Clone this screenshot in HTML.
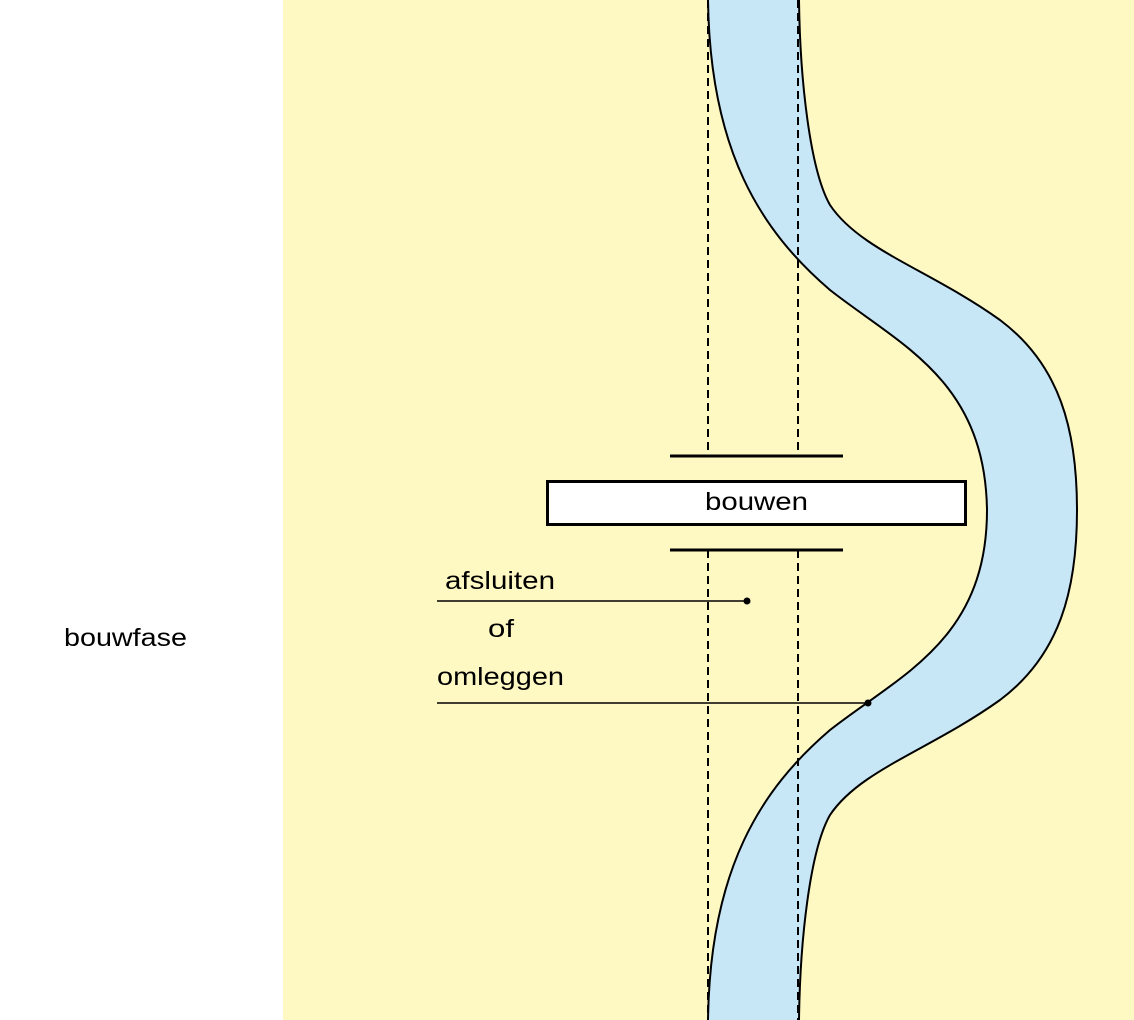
<!DOCTYPE html>
<html><head><meta charset="utf-8"><style>
html,body{margin:0;padding:0;background:#fff;}
svg{display:block;}
text{font-family:"Liberation Sans",sans-serif;fill:#000;}
</style></head><body>
<svg width="1134" height="1020" viewBox="0 0 1134 1020" xmlns="http://www.w3.org/2000/svg">
<rect x="283" y="0" width="851" height="1020" fill="#fef9c3"/>
<path d="M708,0 C710,150 760,230 830,290 C900,345 985,380 987,510 C987,640 900,675 830,730 C760,790 710,870 708,1020 L799,1020 C800,940 810,850 830,815 C860,770 930,750 1000,700 C1060,655 1077,590 1077,510 C1077,430 1060,365 1000,320 C930,270 860,250 830,205 C810,170 800,80 799,0 Z" fill="#c8e7f6" stroke="none"/>
<path d="M708,0 C710,150 760,230 830,290 C900,345 985,380 987,510 C987,640 900,675 830,730 C760,790 710,870 708,1020" fill="none" stroke="#000" stroke-width="2"/>
<path d="M799,0 C800,80 810,170 830,205 C860,250 930,270 1000,320 C1060,365 1077,430 1077,510 C1077,590 1060,655 1000,700 C930,750 860,770 830,815 C810,850 800,940 799,1020" fill="none" stroke="#000" stroke-width="2"/>
<g stroke="#000" stroke-width="2" stroke-dasharray="8,5">
<line x1="708" y1="0" x2="708" y2="456"/>
<line x1="798" y1="0" x2="798" y2="456"/>
<line x1="708" y1="550" x2="708" y2="1020"/>
<line x1="798" y1="550" x2="798" y2="1020"/>
</g>
<line x1="670" y1="456" x2="843" y2="456" stroke="#000" stroke-width="3"/>
<line x1="670" y1="550" x2="843" y2="550" stroke="#000" stroke-width="3"/>
<rect x="547.5" y="481.5" width="418" height="43" fill="#fff" stroke="#000" stroke-width="3"/>
<text x="705" y="510" font-size="25" textLength="103" lengthAdjust="spacingAndGlyphs">bouwen</text>
<line x1="437" y1="601" x2="747" y2="601" stroke="#000" stroke-width="1.5"/>
<circle cx="747" cy="601" r="3.5" fill="#000"/>
<line x1="437" y1="703" x2="868" y2="703" stroke="#000" stroke-width="1.5"/>
<circle cx="868" cy="703" r="3.5" fill="#000"/>
<text x="445" y="589" font-size="25" textLength="110" lengthAdjust="spacingAndGlyphs">afsluiten</text>
<text x="488" y="637" font-size="25" textLength="26" lengthAdjust="spacingAndGlyphs">of</text>
<text x="437" y="685" font-size="25" textLength="127" lengthAdjust="spacingAndGlyphs">omleggen</text>
<text x="64" y="646" font-size="25" textLength="123" lengthAdjust="spacingAndGlyphs">bouwfase</text>
</svg>
</body></html>
